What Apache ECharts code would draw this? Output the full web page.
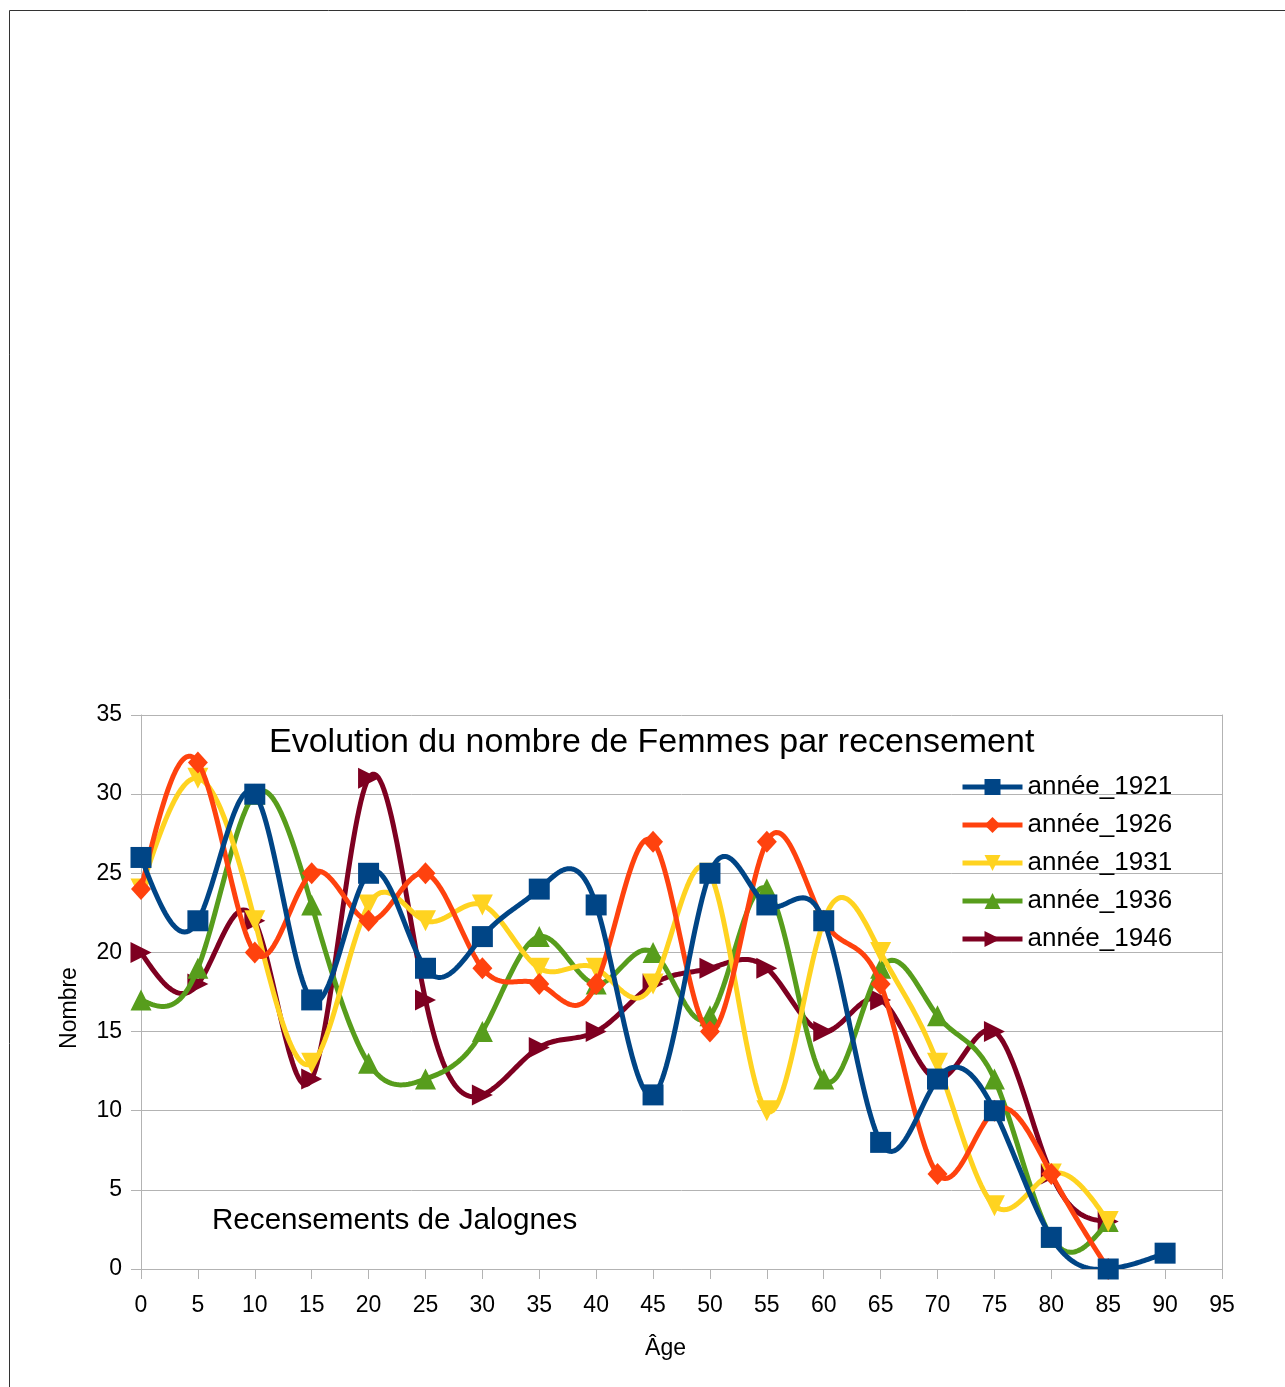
<!DOCTYPE html>
<html>
<head>
<meta charset="utf-8">
<script src="https://cdn.jsdelivr.net/npm/echarts@6/dist/echarts.min.js"></script>
<style>
  html, body { margin: 0; padding: 0; background: #fff; }
  #chart { width: 1285px; height: 1387px; }
</style>
</head>
<body>
<div id="chart"></div>
<script>
// ages (x values)
const ages = [0, 5, 10, 15, 20, 25, 30, 35, 40, 45, 50, 55, 60, 65, 70, 75, 80, 85, 90];

// number of women per census year
const annee1921 = [26, 22, 30, 17, 25, 19, 21, 24, 23, 11, 25, 23, 22, 8, 12, 10, 2, 0, 1];
const annee1926 = [24, 32, 20, 25, 22, 25, 19, 18, 18, 27, 15, 27, 22, 18, 6, 10, 6, 0];
const annee1931 = [24, 31, 22, 13, 23, 22, 23, 19, 19, 18, 25, 10, 22, 20, 13, 4, 6, 3];
const annee1936 = [17, 19, 30, 23, 13, 12, 15, 21, 18, 20, 16, 24, 12, 19, 16, 12, 2, 3];
const annee1946 = [20, 18, 22, 12, 31, 17, 11, 14, 15, 18, 19, 19, 15, 17, 12, 15, 6, 3];

const seriesNames = ['année_1921', 'année_1926', 'année_1931', 'année_1936', 'année_1946'];
const seriesValues = [annee1921, annee1926, annee1931, annee1936, annee1946];
const colors = ['#004586', '#ff420e', '#ffd320', '#579d1c', '#7e0021'];
const symbols = ['rect', 'diamond', 'triangle', 'triangle', 'triangle'];
const rotations = [0, 0, 180, 0, -90];

const font = '"Liberation Sans", Arial, sans-serif';
const chart = echarts.init(document.getElementById('chart'));

// natural cubic spline: second derivatives of v over t
function splineM(t, v) {
    const n = t.length;
    const M = new Array(n).fill(0);
    if (n < 3) return M;
    const a = [], b = [], c = [], d = [];
    for (let i = 1; i < n - 1; i++) {
        const h0 = t[i] - t[i - 1], h1 = t[i + 1] - t[i];
        a.push(h0);
        b.push(2 * (h0 + h1));
        c.push(h1);
        d.push(6 * ((v[i + 1] - v[i]) / h1 - (v[i] - v[i - 1]) / h0));
    }
    const m = b.length;
    for (let i = 1; i < m; i++) {
        const w = a[i] / b[i - 1];
        b[i] -= w * c[i - 1];
        d[i] -= w * d[i - 1];
    }
    const x = new Array(m);
    x[m - 1] = d[m - 1] / b[m - 1];
    for (let i = m - 2; i >= 0; i--) x[i] = (d[i] - c[i] * x[i + 1]) / b[i];
    for (let i = 0; i < m; i++) M[i + 1] = x[i];
    return M;
}

function splineValue(t, v, M, i, s) {
    const h = t[i + 1] - t[i];
    const u = h - s;
    return M[i] * u * u * u / (6 * h) + M[i + 1] * s * s * s / (6 * h)
        + (v[i] / h - M[i] * h / 6) * u + (v[i + 1] / h - M[i + 1] * h / 6) * s;
}

// cubic spline y(x) through the pixel positions of the points
function curvePoints(pts) {
    const xs = pts.map(p => p[0]), ys = pts.map(p => p[1]);
    const My = splineM(xs, ys);
    const out = [];
    for (let i = 0; i < pts.length - 1; i++) {
        const h = xs[i + 1] - xs[i];
        const steps = 30;
        for (let k = 0; k < steps; k++) {
            const s = h * k / steps;
            out.push([xs[i] + s, splineValue(xs, ys, My, i, s)]);
        }
    }
    out.push(pts[pts.length - 1]);
    return out;
}

const lineSeries = seriesValues.map((vals, i) => ({
    name: seriesNames[i],
    type: 'custom',
    data: [[ages[0], vals[0]]],
    clip: true,
    z: 2 + (4 - i) * 0.1,
    silent: true,
    legendHoverLink: false,
    renderItem: (params, api) => {
        const pts = vals.map((v, k) => api.coord([ages[k], v]));
        return {
            type: 'polyline',
            shape: { points: curvePoints(pts) },
            style: { stroke: colors[i], lineWidth: 5, fill: null, lineJoin: 'round' },
        };
    },
    animation: false,
}));

const symbolSeries = seriesValues.map((vals, i) => ({
    name: seriesNames[i],
    type: 'line',
    data: vals.map((v, k) => [ages[k], v]),
    symbol: symbols[i],
    symbolSize: symbols[i] === 'diamond' ? [20, 22] : 21,
    symbolRotate: rotations[i],
    showAllSymbol: true,
    z: 2.05 + (4 - i) * 0.1,
    itemStyle: { color: colors[i] },
    lineStyle: { color: colors[i], width: 0 },
    emphasis: { disabled: true },
    animation: false,
}));

chart.setOption({
    animation: false,
    color: colors,
    title: [
        {
            text: 'Evolution du nombre de Femmes par recensement',
            left: 264,
            top: 721,
            textStyle: { fontFamily: font, fontSize: 34, fontWeight: 'normal', color: '#000' },
        },
        {
            text: 'Recensements de Jalognes',
            left: 207,
            top: 1201,
            textStyle: { fontFamily: font, fontSize: 29.6, fontWeight: 'normal', color: '#000' },
        },
    ],
    legend: {
        orient: 'vertical',
        left: 955,
        top: 769,
        itemWidth: 60,
        itemHeight: 20,
        itemGap: 12,
        data: seriesNames,
        lineStyle: { width: 5 },
        textStyle: { fontFamily: font, fontSize: 26, color: '#000', lineHeight: 26 },
    },
    grid: { left: 141, right: 63, top: 715, bottom: 118 },
    xAxis: {
        type: 'value',
        min: 0,
        max: 95,
        interval: 5,
        name: 'Âge',
        nameLocation: 'middle',
        nameGap: 68,
        nameTextStyle: { fontFamily: font, fontSize: 23, color: '#000', padding: [0, 32, 0, 0] },
        axisLine: { show: true, lineStyle: { color: '#b3b3b3', width: 1 } },
        axisTick: { show: true, length: 10, lineStyle: { color: '#b3b3b3' } },
        axisLabel: { fontFamily: font, fontSize: 23, color: '#000', margin: 25 },
        splitLine: { show: false },
    },
    yAxis: [
        {
            type: 'value',
            min: 0,
            max: 35,
            interval: 5,
            name: 'Nombre',
            nameLocation: 'middle',
            nameGap: 60,
            nameTextStyle: { fontFamily: font, fontSize: 23, color: '#000', padding: [0, 32, 0, 0] },
            axisLine: { show: true, lineStyle: { color: '#b3b3b3', width: 1 } },
            axisTick: { show: true, length: 10, lineStyle: { color: '#b3b3b3' } },
            axisLabel: { fontFamily: font, fontSize: 23, color: '#000', margin: 19 },
            splitLine: { show: true, lineStyle: { color: '#b3b3b3', width: 1 } },
        },
        {
            type: 'value',
            position: 'right',
            min: 0,
            max: 35,
            interval: 5,
            axisLine: { show: true, lineStyle: { color: '#b3b3b3', width: 1 } },
            axisTick: { show: false },
            axisLabel: { show: false },
            splitLine: { show: false },
        },
    ],
    graphic: [
        {
            type: 'rect',
            silent: true,
            shape: { x: 9.5, y: 10.5, width: 1400, height: 1500 },
            style: { fill: 'none', stroke: '#333', lineWidth: 1 },
        },
    ],
    series: symbolSeries.concat(lineSeries),
});
</script>
</body>
</html>
